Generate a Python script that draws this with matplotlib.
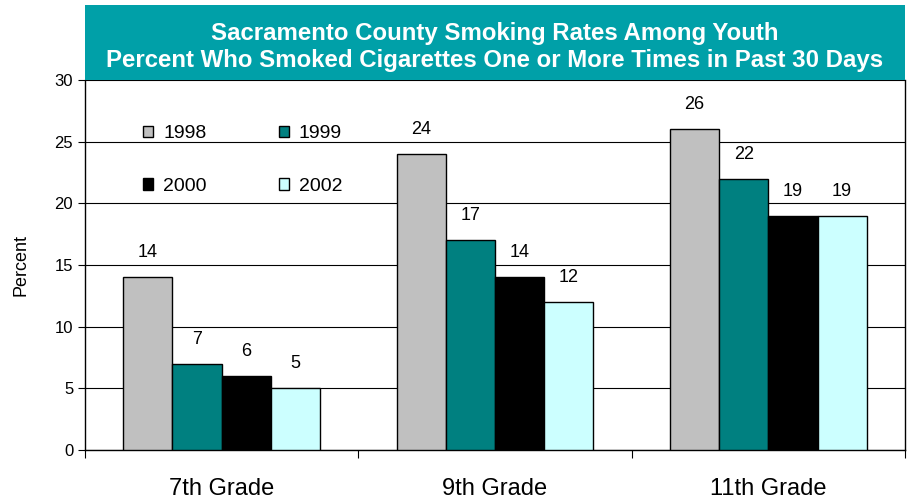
import matplotlib
matplotlib.use('Agg')
import matplotlib.pyplot as plt
from matplotlib.patches import Rectangle
import numpy as np

plt.rcParams['font.family'] = ['Liberation Sans', 'DejaVu Sans']

# Данные
grades = ['7th Grade', '9th Grade', '11th Grade']
years = ['1998', '1999', '2000', '2002']
rates_1998 = [14, 24, 26]
rates_1999 = [7, 17, 22]
rates_2000 = [6, 14, 19]
rates_2002 = [5, 12, 19]
y_ticks = [0, 5, 10, 15, 20, 25, 30]

colors = ['#C0C0C0', '#008080', '#000000', '#CCFFFF']
series = [rates_1998, rates_1999, rates_2000, rates_2002]

fig = plt.figure(figsize=(9.08, 5.01), dpi=100)
ax = fig.add_axes([0.0936, 0.1018, 0.9031, 0.7385])

bar_w = 0.18
x = np.arange(len(grades)) + 0.5
for i, (vals, c, yr) in enumerate(zip(series, colors, years)):
    pos = x + (i - 1.5) * bar_w
    ax.bar(pos, vals, width=bar_w, color=c, edgecolor='black', linewidth=1,
           label=yr, zorder=3)
    for p, v in zip(pos, vals):
        ax.text(p, v + 1.3, str(v), ha='center', va='bottom', fontsize=13)

ax.set_xlim(0, 3)
ax.set_ylim(0, 30)
ax.set_yticks(y_ticks)
ax.tick_params(axis='y', labelsize=12, length=5, direction='out')
ax.set_xticks([0, 1, 2, 3])
ax.set_xticklabels([])
ax.tick_params(axis='x', length=6, direction='out')
ax.set_xticks(x, minor=True)
ax.set_xticklabels(grades, minor=True, fontsize=17)
ax.tick_params(axis='x', which='minor', length=0, pad=20)
ax.yaxis.grid(True, color='black', linewidth=0.8, zorder=0)
ax.set_ylabel('Percent', fontsize=13, labelpad=18)
for s in ax.spines.values():
    s.set_linewidth(1)
ax.spines['top'].set_visible(False)

# Легенда: порядок как в оригинале (по строкам)
h, l = ax.get_legend_handles_labels()
order = [0, 2, 1, 3]
ax.legend([h[k] for k in order], [l[k] for k in order],
          loc='upper left', bbox_to_anchor=(0.049, 0.925), ncol=2, frameon=False,
          fontsize=14, handlelength=0.55, handleheight=0.55, columnspacing=3.7,
          labelspacing=1.85, handletextpad=0.5)

# Заголовок в цветной плашке
fig.patches.append(Rectangle((0.0936, 0.8403), 0.9031, 0.15, transform=fig.transFigure,
                             facecolor='#00A0A8', edgecolor='none'))
fig.text(0.545, 0.906,
         'Sacramento County Smoking Rates Among Youth\n'
         'Percent Who Smoked Cigarettes One or More Times in Past 30 Days',
         ha='center', va='center', color='white', fontsize=17.3, fontweight='bold',
         linespacing=1.22)

fig.savefig('out.png', dpi=100)
